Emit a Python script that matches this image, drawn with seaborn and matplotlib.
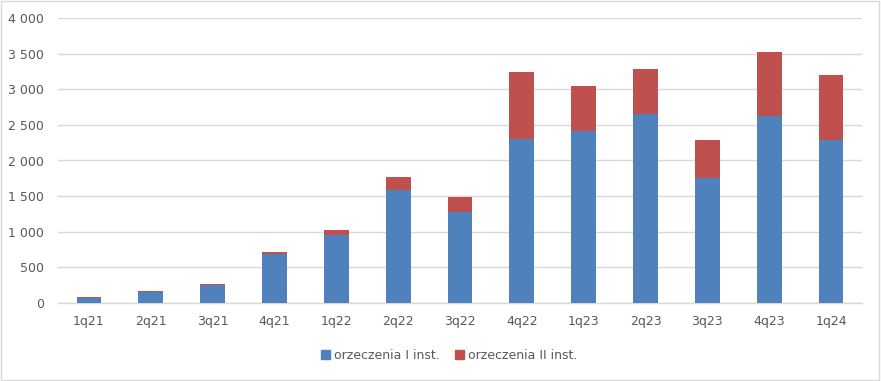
import numpy as np
import pandas as pd
import seaborn as sns
import matplotlib.pyplot as plt
from matplotlib.patches import Patch, Rectangle
from matplotlib.ticker import FuncFormatter

# dane kwartalne
kwartaly = ['1q21', '2q21', '3q21', '4q21', '1q22', '2q22', '3q22',
            '4q22', '1q23', '2q23', '3q23', '4q23', '1q24']
inst_1 = [75, 155, 252, 690, 950, 1590, 1277, 2302, 2414, 2657, 1759, 2629, 2292]
inst_2 = [10, 14, 15, 27, 75, 178, 211, 940, 632, 627, 529, 894, 908]

etykieta_1 = 'orzeczenia I inst.'
etykieta_2 = 'orzeczenia II inst.'

df = pd.DataFrame({'kwartal': kwartaly, 'inst_1': inst_1, 'inst_2': inst_2})
df['suma'] = df['inst_1'] + df['inst_2']

niebieski = '#4F81BD'
czerwony = '#C0504D'
szary = '#595959'
siatka = '#D9D9D9'

sns.set_style('white')
plt.rcParams['font.family'] = ['DejaVu Sans']

fig = plt.figure(figsize=(8.81, 3.81), dpi=100)
ax = fig.add_axes([58 / 881, 1 - 303 / 381, (862 - 58) / 881, (303 - 18) / 381])

# suma (czerwona) pod spodem, I instancja (niebieska) na wierzchu
sns.barplot(data=df, x='kwartal', y='suma', color=czerwony, width=0.4,
            saturation=1, linewidth=0, ax=ax, zorder=2)
sns.barplot(data=df, x='kwartal', y='inst_1', color=niebieski, width=0.4,
            saturation=1, linewidth=0, ax=ax, zorder=3)

ax.set_ylim(0, 4000)
ax.set_xlim(-0.5, len(kwartaly) - 0.5)
ax.set_yticks(np.arange(0, 4001, 500))
ax.yaxis.set_major_formatter(FuncFormatter(lambda v, p: f'{int(v):,}'.replace(',', ' ')))
ax.grid(axis='y', color=siatka, linewidth=1, zorder=0)
ax.set_axisbelow(True)
ax.set_xlabel('')
ax.set_ylabel('')

for s in ['top', 'right', 'left']:
    ax.spines[s].set_visible(False)
ax.spines['bottom'].set_color(siatka)
ax.spines['bottom'].set_linewidth(1)
ax.tick_params(axis='both', length=0, labelsize=9, labelcolor=szary)
ax.tick_params(axis='x', pad=9)
ax.tick_params(axis='y', pad=10)

uchwyty = [Patch(color=niebieski, label=etykieta_1), Patch(color=czerwony, label=etykieta_2)]
leg = fig.legend(handles=uchwyty, loc='center', bbox_to_anchor=(0.51, 0.068), ncol=2,
                 frameon=False, fontsize=9, handlelength=0.75, handleheight=0.75,
                 handletextpad=0.3, columnspacing=1.2)
for t in leg.get_texts():
    t.set_color(szary)

fig.patches.append(Rectangle((0.001, 0.002), 0.997, 0.995, transform=fig.transFigure,
                             fill=False, edgecolor=siatka, linewidth=1))

fig.savefig('out.png', dpi=100, facecolor='white')
